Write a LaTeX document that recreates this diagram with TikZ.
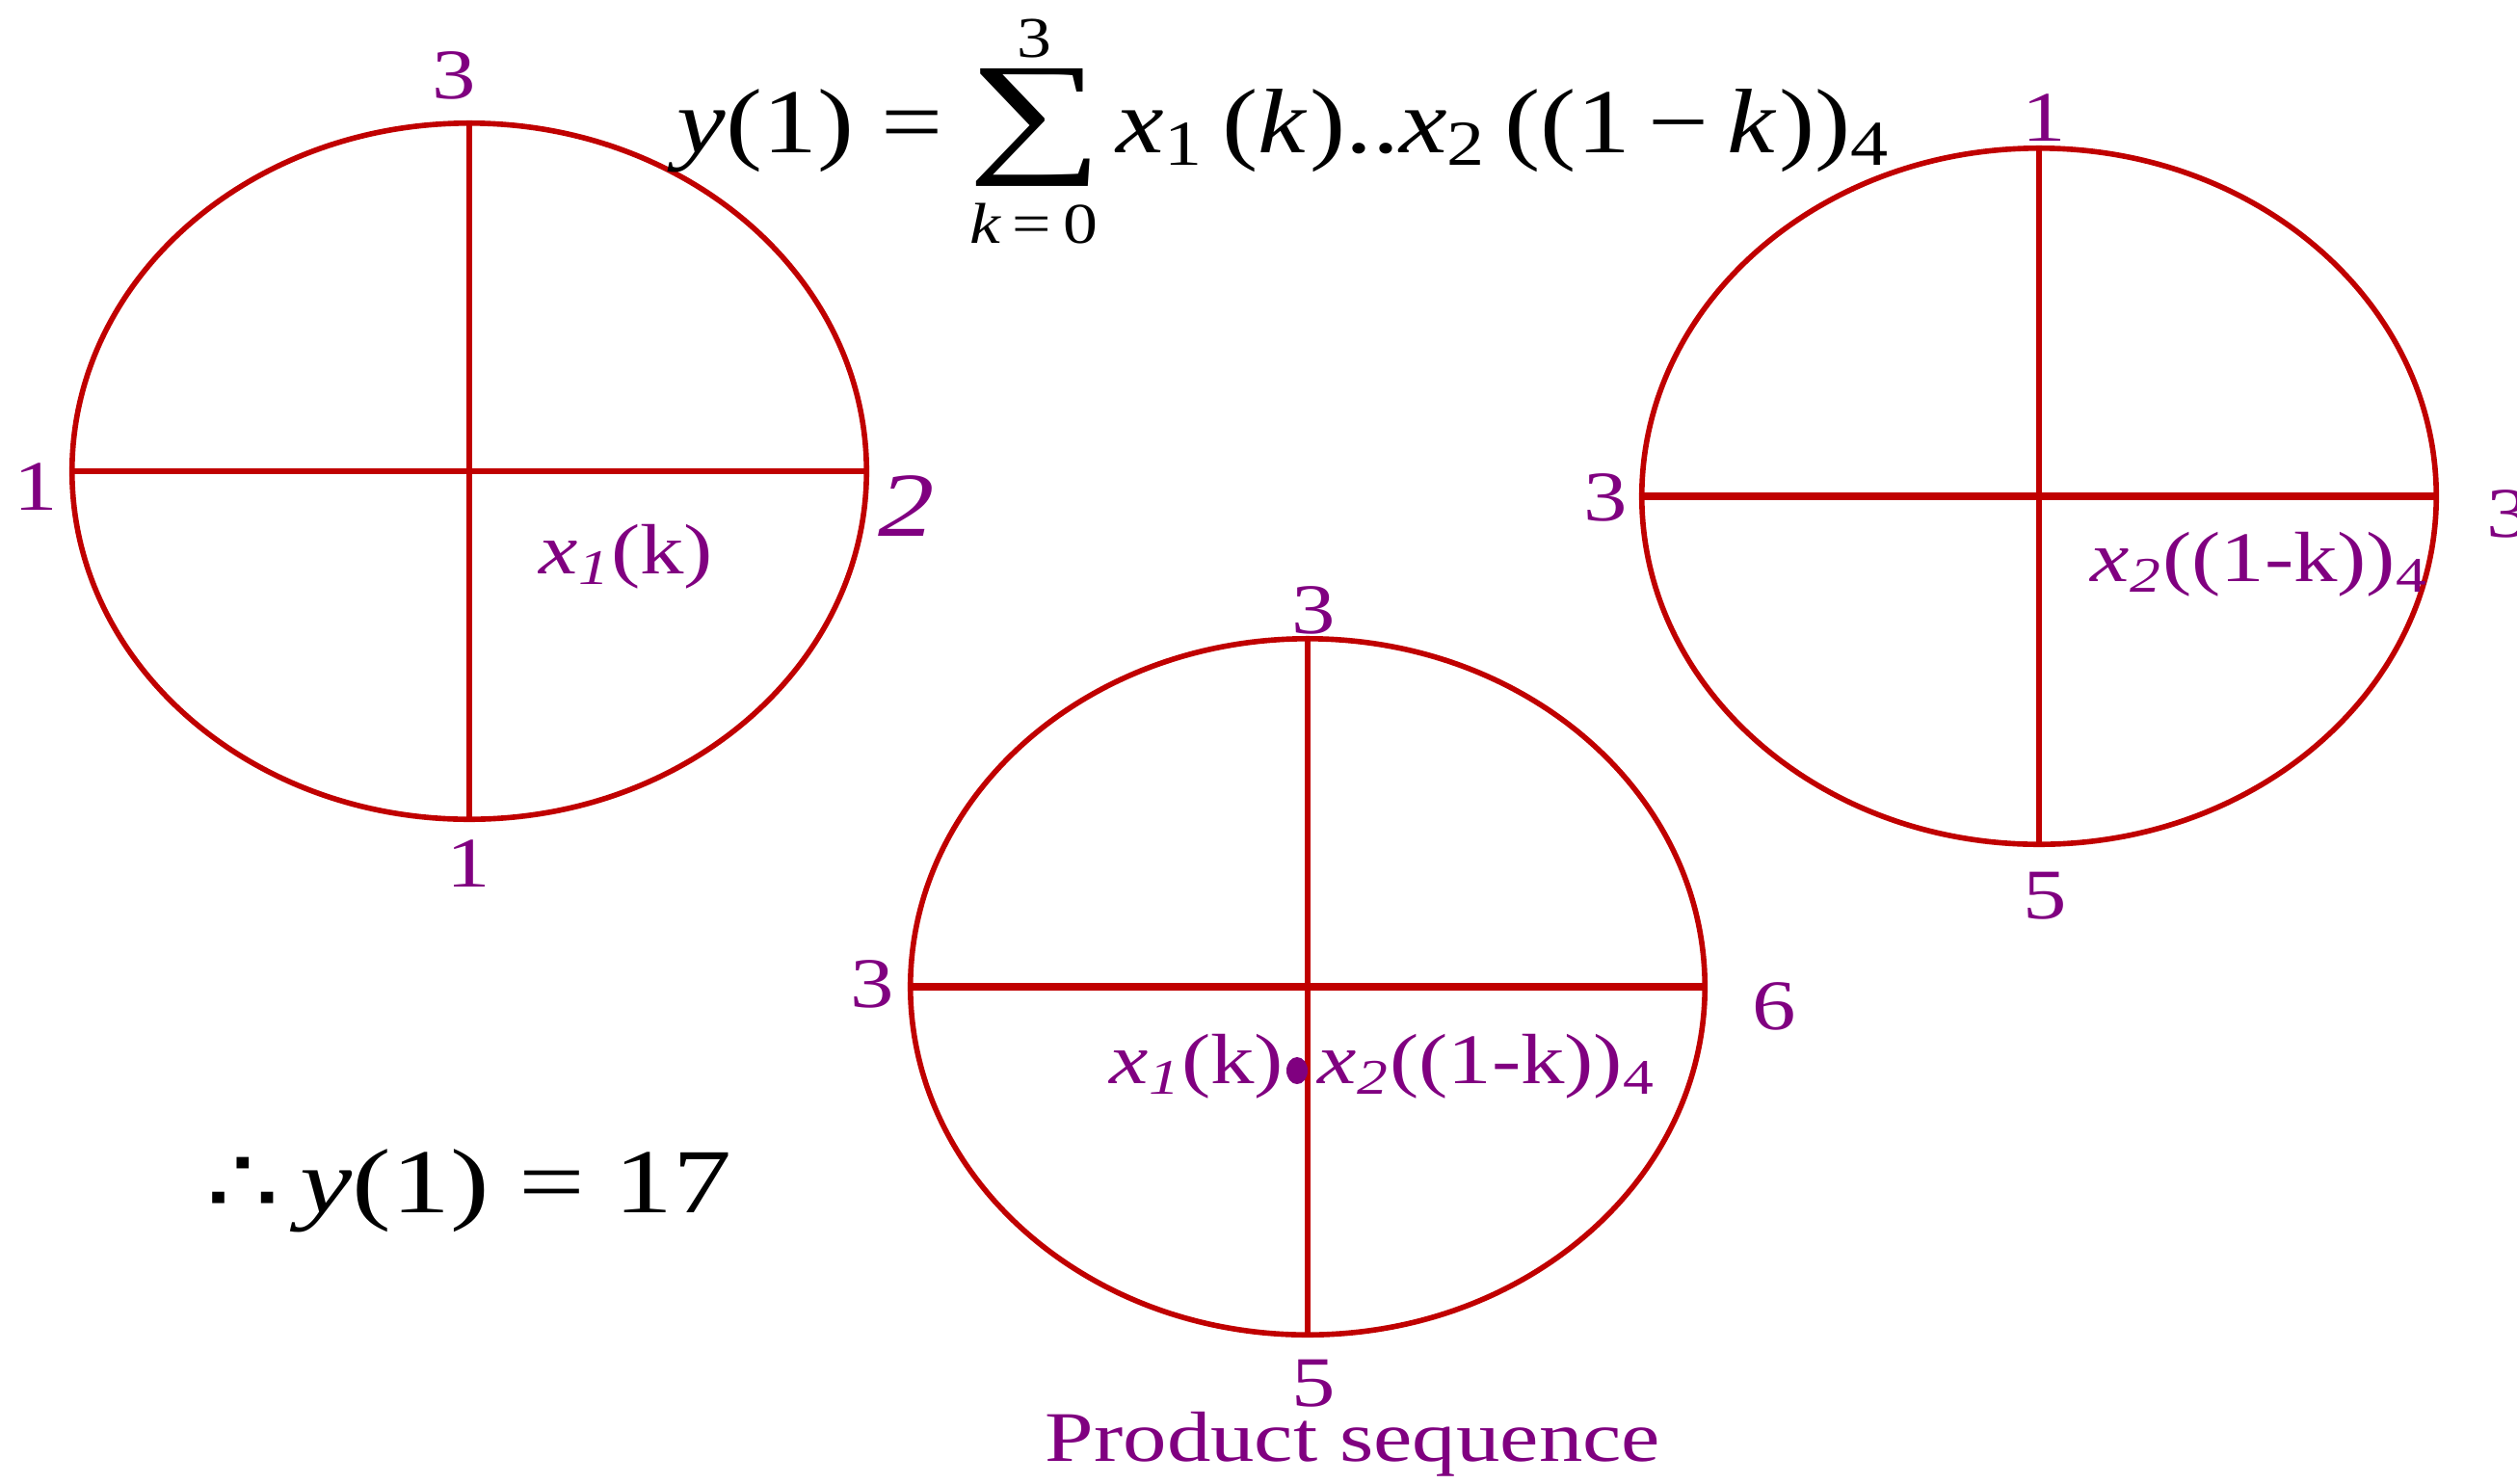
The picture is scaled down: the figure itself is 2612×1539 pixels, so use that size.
\documentclass[tikz,border=0pt]{standalone}
\usepackage{fontspec}
\setmainfont{Liberation Serif}
\newfontfamily\djv{DejaVu Sans}
\usetikzlibrary{shapes.geometric}
\definecolor{ered}{RGB}{192,0,0}
\definecolor{lpurple}{RGB}{128,0,128}
\newcommand{\xs}[1]{{\itshape x}\textsubscript{\itshape #1}}
\begin{document}
\begin{tikzpicture}[x=0.01cm,y=-0.01cm,
  circ/.style={ellipse,draw=ered,line width=1.6pt,minimum width=8.24cm,minimum height=7.22cm,inner sep=0pt},
  axisline/.style={draw=ered,line width=1.6pt},
  thickaxis/.style={draw=ered,line width=2.1pt},
  lab/.style={text=lpurple,font=\fontsize{21}{25}\selectfont,inner sep=0pt,xscale=1.23},
  eqn/.style={text=black,font=\fontsize{27}{30}\selectfont,inner sep=0pt,xscale=1.2},
  lim/.style={text=black,font=\fontsize{17}{20}\selectfont,inner sep=0pt,xscale=1.2}]
\useasboundingbox (0,0) rectangle (2612,1539);
% left circle
\node[circ] (A) at (487,489) {};
\draw[axisline] (A.west) -- (A.east);
\draw[axisline] (A.north) -- (A.south);
\node[lab] (a3) at (471,78) {3};
\node[lab] (a1l) at (37,505) {1};
\node[lab,font=\fontsize{27}{30}\selectfont\itshape] (a2) at (941,525) {2};
\node[lab] (a1b) at (486,896) {1};
\node[lab] (ax) at (650,578) {\xs{1}(k)};
% right circle
\node[circ] (B) at (2116,515) {};
\draw[thickaxis] (B.west) -- (B.east);
\draw[axisline] (B.north) -- (B.south);
\node[lab] (b1) at (2121,122) {1};
\node[lab] (b3l) at (1666,516) {3};
\node[lab] (b3r) at (2603,533) {3};
\node[lab] (b5) at (2122,930) {5};
\node[lab] (bx) at (2345,586) {\xs{2}((1-k))\textsubscript{4}};
% bottom circle
\node[circ] (C) at (1357,1024) {};
\draw[thickaxis] (C.west) -- (C.east);
\draw[axisline] (C.north) -- (C.south);
\node[lab] (c3t) at (1363,633) {3};
\node[lab] (c3l) at (905,1021) {3};
\node[lab] (c6) at (1841,1044) {6};
\node[lab] (c5) at (1363,1436) {5};
\node[ellipse,fill=lpurple,minimum width=0.22cm,minimum height=0.28cm,inner sep=0pt] (dot) at (1346,1111) {};
\node[lab,anchor=mid east] (cxl) at (1333,1116) {\xs{1}(k)};
\node[lab,anchor=mid west] (cxr) at (1367,1116) {\xs{2}((1-k))\textsubscript{4}};
\node[lab] (prod) at (1404,1499) {Product sequence};
% top equation
\node[eqn,anchor=base east] (lhs) at (980,158) {{\itshape y}(1) =};
\node[text=black,font=\fontsize{40}{44}\selectfont,inner sep=0pt,xscale=1.4] (sig) at (1075,132) {∑};
\node[lim] (up) at (1073,40) {3};
\node[lim] (lo) at (1073,232) {{\itshape k}\,=\,0};
\node[eqn,anchor=base west,xscale=0.98] (rhs) at (1158,158) {{\itshape x}\textsubscript{1}\,({\itshape k}\kern0.04em)..{\itshape x}\textsubscript{2}\,((1\,−\,{\itshape k}\kern0.04em))\textsubscript{4}};
% result
\node[eqn,anchor=base west,xscale=1.07] (res) at (213,1258) {{\djv ∴}\,{\itshape y}(1) = 17};
\end{tikzpicture}
\end{document}
